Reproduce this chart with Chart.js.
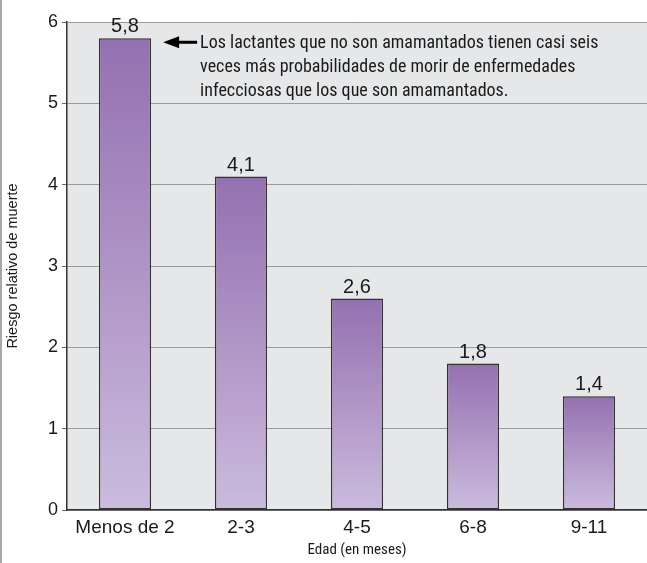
<!DOCTYPE html>
<html>
<head>
<meta charset="utf-8">
<script src="https://cdn.jsdelivr.net/npm/chart.js@4.4.0/dist/chart.umd.min.js"></script>
<style>
  html, body { margin: 0; padding: 0; background: #fff; }
  #wrap { position: relative; width: 647px; height: 563px; }
  #wrap:before { content: ""; position: absolute; left: 0; top: 0; bottom: 0; width: 2px; background: #a8a8a8; }
</style>
</head>
<body>
<div id="wrap"><canvas id="c" width="647" height="563"></canvas></div>
<script>
const categories = ["Menos de 2", "2-3", "4-5", "6-8", "9-11"];
const riesgo = [5.8, 4.1, 2.6, 1.8, 1.4];
const yTicks = [0, 1, 2, 3, 4, 5, 6];
const nota = [
  "Los lactantes que no son amamantados tienen casi seis",
  "veces más probabilidades de morir de enfermedades",
  "infecciosas que los que son amamantados."
];

const NARROW = '"Roboto Condensed", "Liberation Sans Narrow", sans-serif';
const SANS = '"Liberation Sans", Arial, sans-serif';

// fondo gris del área del gráfico
const fondo = {
  id: 'fondo',
  beforeDraw(chart) {
    const { ctx, chartArea: a } = chart;
    ctx.save();
    ctx.fillStyle = '#e6e7e9';
    ctx.fillRect(a.left, a.top, a.right - a.left, a.bottom - a.top);
    ctx.restore();
  }
};

// degradado de cada barra, de su tope a la base
function colorBarra(context) {
  const chart = context.chart;
  const y = chart.scales.y;
  if (!chart.chartArea || !y || context.dataIndex === undefined) return '#a88cc4';
  const top = y.getPixelForValue(riesgo[context.dataIndex]);
  const base = y.getPixelForValue(0);
  const g = chart.ctx.createLinearGradient(0, top, 0, base);
  g.addColorStop(0, '#9470b0');
  g.addColorStop(1, '#cbbbdd');
  return g;
}

// etiquetas de valor + nota con flecha
const etiquetas = {
  id: 'etiquetas',
  afterDatasetsDraw(chart) {
    const { ctx } = chart;
    const meta = chart.getDatasetMeta(0);
    ctx.save();
    ctx.fillStyle = '#1a1a1a';
    ctx.font = '20px ' + SANS;
    ctx.textAlign = 'center';
    ctx.textBaseline = 'alphabetic';
    meta.data.forEach((el, i) => {
      ctx.fillText(riesgo[i].toFixed(1).replace('.', ','), el.x, el.y - 6);
    });

    const b0 = meta.data[0];
    const ay = b0.y + 4;
    const x0 = b0.x + b0.width / 2 + 12;
    const x1 = x0 + 34;
    ctx.fillStyle = '#000';
    ctx.strokeStyle = '#000';
    ctx.lineWidth = 3;
    ctx.beginPath();
    ctx.moveTo(x0 + 12, ay);
    ctx.lineTo(x1, ay);
    ctx.stroke();
    ctx.beginPath();
    ctx.moveTo(x0, ay);
    ctx.lineTo(x0 + 16, ay - 6);
    ctx.lineTo(x0 + 16, ay + 6);
    ctx.closePath();
    ctx.fill();

    ctx.font = '18px ' + NARROW;
    ctx.textAlign = 'left';
    ctx.textBaseline = 'middle';
    ctx.fillStyle = '#1a1a1a';
    nota.forEach((t, i) => ctx.fillText(t, x1 + 3, ay + 1 + i * 24));
    ctx.restore();
  }
};

new Chart(document.getElementById('c'), {
  type: 'bar',
  data: {
    labels: categories,
    datasets: [{
      data: riesgo,
      backgroundColor: colorBarra,
      borderColor: '#333',
      borderWidth: 1.5,
      borderSkipped: false,
      categoryPercentage: 1,
      barPercentage: 0.45
    }]
  },
  options: {
    responsive: false,
    animation: false,
    devicePixelRatio: 1,
    layout: { padding: { top: 22, right: 0, left: 0, bottom: 0 } },
    plugins: { legend: { display: false }, tooltip: { enabled: false } },
    scales: {
      x: {
        grid: { display: false, drawTicks: false },
        border: { color: '#333', width: 1.5 },
        ticks: { color: '#1a1a1a', font: { family: SANS, size: 19 }, padding: 6 },
        title: { display: true, text: 'Edad (en meses)', color: '#1a1a1a', font: { family: NARROW, size: 15 }, padding: { top: 3 } },
        afterFit(s) { s.height = 53; }
      },
      y: {
        min: 0, max: 6,
        afterBuildTicks(s) { s.ticks = yTicks.map(v => ({ value: v })); },
        grid: { color: '#9a9a9a', lineWidth: 1, tickLength: 5, tickColor: '#666' },
        border: { color: '#333', width: 1.5 },
        ticks: { color: '#1a1a1a', font: { family: SANS, size: 18 }, padding: 4 },
        title: { display: true, text: 'Riesgo relativo de muerte', color: '#1a1a1a', font: { family: SANS, size: 14.5 }, padding: { bottom: 8 } },
        afterFit(s) { s.width = 67; }
      }
    }
  },
  plugins: [fondo, etiquetas]
});
</script>
</body>
</html>
